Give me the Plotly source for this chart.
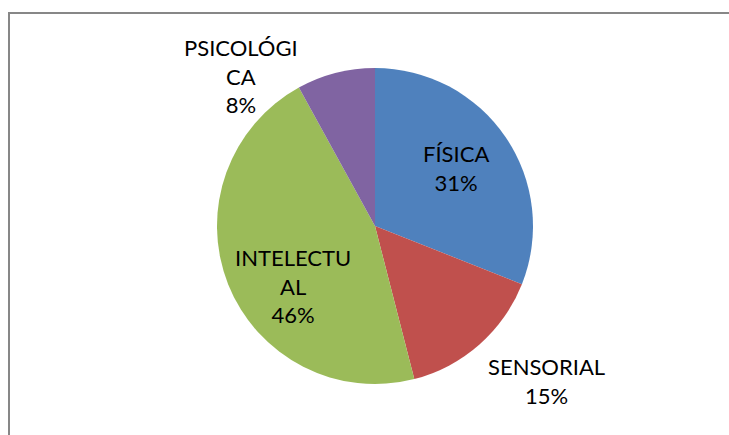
import plotly.graph_objects as go

# slice data (clockwise from 12 o'clock)
categories = ['FÍSICA', 'SENSORIAL', 'INTELECTUAL', 'PSICOLÓGICA']
values = [31, 15, 46, 8]
label_lines = ['FÍSICA', 'SENSORIAL', 'INTELECTU<br>AL', 'PSICOLÓGI<br>CA']
colors = ['#4F81BD', '#C0504D', '#9BBB59', '#8064A2']

# label centres in paper coords
label_x = [0.6255, 0.749, 0.4019, 0.3306]
label_y = [0.6138, 0.1241, 0.3425, 0.8253]

W, H = 729, 435
total = sum(values)

fig = go.Figure()
fig.add_trace(go.Pie(
    labels=categories,
    values=values,
    sort=False,
    direction='clockwise',
    rotation=0,
    marker=dict(colors=colors, line=dict(width=0)),
    textinfo='none',
    hoverinfo='label+percent',
    showlegend=False,
    domain=dict(x=[217 / W, 533 / W], y=[51 / H, 367 / H]),
))

for name, v, x, y in zip(label_lines, values, label_x, label_y):
    pct = round(v / total * 100)
    fig.add_annotation(
        x=x, y=y, xref='paper', yref='paper',
        xanchor='center', yanchor='middle',
        text=f'{name}<br>{pct}%',
        showarrow=False,
        font=dict(family='Lato', size=22, color='#000000'),
        align='center',
    )

# chart-area border (runs off the right and bottom edges)
fig.add_shape(
    type='rect', xref='paper', yref='paper',
    x0=9 / W, x1=1.05, y0=-0.05, y1=1 - 13 / H,
    line=dict(color='#878787', width=2),
    fillcolor='rgba(0,0,0,0)',
)

fig.update_layout(
    width=W, height=H,
    margin=dict(l=0, r=0, t=0, b=0),
    paper_bgcolor='white',
    plot_bgcolor='white',
)

fig.write_html('out.html', config={'displayModeBar': False},
               post_script="document.body.style.margin='0';")
